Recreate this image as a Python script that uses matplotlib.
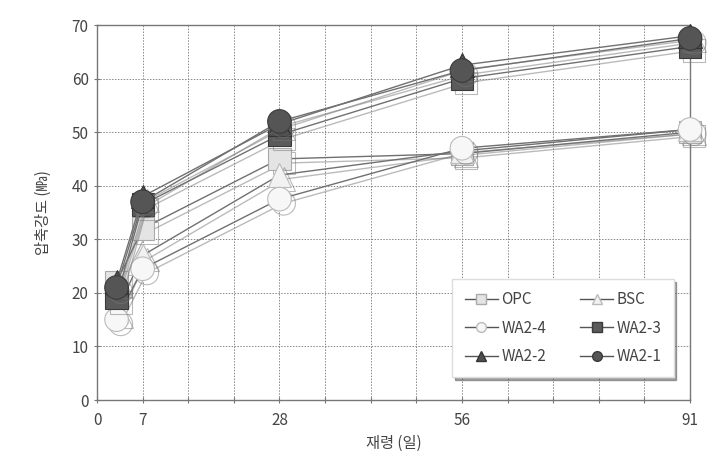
import matplotlib
matplotlib.use("Agg")
import matplotlib.pyplot as plt
import matplotlib.patheffects as pe
from matplotlib.lines import Line2D
import numpy as np

plt.rcParams['font.family'] = ['Noto Sans CJK KR', 'DejaVu Sans']

days = [3, 7, 28, 56, 91]
series_names = ["OPC", "BSC", "WA2-4", "WA2-3", "WA2-2", "WA2-1"]
opc = [22.0, 32.0, 45.0, 46.0, 50.0]
bsc = [16.5, 27.0, 42.0, 46.5, 50.5]
wa2_4 = [15.0, 24.5, 37.5, 47.0, 50.5]
wa2_3 = [19.0, 36.5, 49.5, 60.0, 66.0]
wa2_2 = [22.0, 38.0, 51.5, 62.5, 68.0]
wa2_1 = [21.0, 37.0, 52.0, 61.5, 67.5]
values = [opc, bsc, wa2_4, wa2_3, wa2_2, wa2_1]

xtick_vals = [0, 7, 28, 56, 91]
ytick_vals = list(range(0, 71, 10))

markers = ['s', '^', 'o', 's', '^', 'o']
faces = ['#e4e4e4', '#f2f2f2', '#f7f7f7', '#5a5a5a', '#505050', '#555555']
edges = ['#aaaaaa', '#bbbbbb', '#bbbbbb', '#3a3a3a', '#333333', '#3a3a3a']
msizes = [16, 17, 17, 16, 17, 17]

fig = plt.figure(figsize=(7.25, 4.71), dpi=100)
ax = fig.add_axes([0.1338, 0.1507, 0.818, 0.7962])

for name, vals, m, fc, ec, ms in zip(series_names, values, markers, faces, edges, msizes):
    ax.plot(days, vals, color='#707070', lw=1.0, marker=m, markersize=ms,
            markerfacecolor=fc, markeredgecolor=ec, markeredgewidth=0.8,
            zorder=3, clip_on=False,
            path_effects=[pe.SimpleLineShadow(offset=(3, -3), shadow_color='#777777', alpha=0.5),
                          pe.Normal()])

ax.set_xlim(0, 91)
ax.set_ylim(0, 70)
ax.set_xticks(np.arange(0, 92, 7))
ax.set_xticklabels([str(t) if t in xtick_vals else '' for t in np.arange(0, 92, 7)])
ax.set_yticks(ytick_vals)
ax.grid(True, color='#888888', linestyle=(0, (1.5, 1.5)), linewidth=0.7)
ax.set_axisbelow(True)
for sp in ax.spines.values():
    sp.set_color('#777777')
    sp.set_linewidth(1.0)
ax.tick_params(axis='both', colors='#777777', labelcolor='#444444', labelsize=11, length=5, direction='inout')
ax.tick_params(axis='x', pad=6)

ax.set_ylabel('압축강도 (㎫)', fontsize=11, color='#444444', labelpad=14)
ax.set_xlabel('재령 (일)', fontsize=11, color='#444444', labelpad=4)

leg_handles = []
for m, fc, ec in zip(markers, faces, edges):
    leg_handles.append(Line2D([0], [0], color='#555555', lw=1.0, marker=m, markersize=7,
                              markerfacecolor=fc, markeredgecolor=ec))
order = [0, 2, 4, 1, 3, 5]
leg = ax.legend([leg_handles[i] for i in order], [series_names[i] for i in order],
                ncol=2, loc='lower right', bbox_to_anchor=(0.985, 0.04),
                frameon=True, fancybox=False, shadow=True, fontsize=11,
                handlelength=2.2, columnspacing=2.2, labelspacing=0.75,
                borderpad=0.8, handletextpad=0.2)
leg.get_frame().set_edgecolor('#dddddd')
leg.get_frame().set_facecolor('white')
for t in leg.get_texts():
    t.set_color('#444444')

fig.savefig('out.png', dpi=100)
